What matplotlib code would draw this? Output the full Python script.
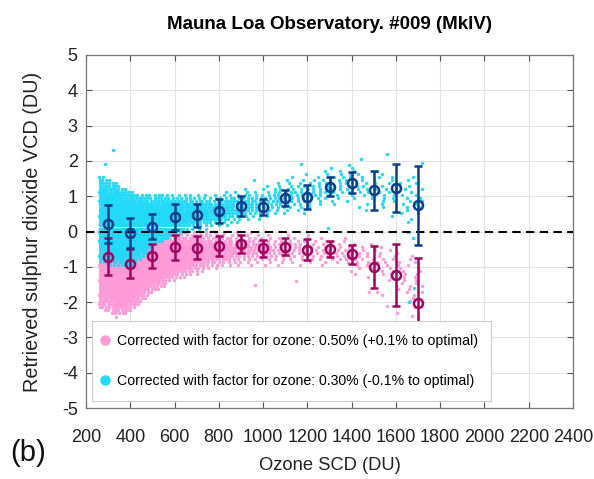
import numpy as np
import matplotlib
matplotlib.use("Agg")
import matplotlib.pyplot as plt
from matplotlib.lines import Line2D

plt.rcParams['font.family'] = ['Liberation Sans', 'DejaVu Sans']

# ---- binned statistics (error bars) ----
bin_x = [300, 400, 500, 600, 700, 800, 900, 1000, 1100, 1200, 1300, 1400, 1500, 1600, 1700]
cyan_mean = [0.21, -0.05, 0.14, 0.41, 0.46, 0.58, 0.73, 0.70, 0.94, 0.98, 1.27, 1.38, 1.17, 1.22, 0.74]
cyan_std = [0.54, 0.43, 0.36, 0.36, 0.33, 0.33, 0.28, 0.23, 0.23, 0.35, 0.27, 0.30, 0.55, 0.68, 1.12]
pink_mean = [-0.71, -0.91, -0.69, -0.45, -0.46, -0.41, -0.35, -0.48, -0.43, -0.52, -0.50, -0.65, -1.00, -1.23, -2.03]
pink_std = [0.53, 0.41, 0.35, 0.36, 0.32, 0.29, 0.26, 0.23, 0.24, 0.30, 0.22, 0.28, 0.59, 0.89, 1.29]

# ---- scatter cloud envelopes (read per 50 DU segment) ----
seg_x = [260, 300, 350, 400, 450, 500, 550, 600, 650, 700, 750, 800, 850, 900, 950,
         1000, 1050, 1100, 1150, 1200, 1250, 1300, 1350, 1400, 1450, 1500, 1550, 1600, 1650, 1720]
cyan_hi = [1.55, 1.40, 1.20, 1.10, 1.05, 1.05, 1.05, 1.05, 1.05, 1.05, 1.05, 1.10, 1.15, 1.20,
           1.20, 1.35, 1.45, 1.55, 1.55, 1.75, 1.80, 1.95, 1.95, 1.75, 1.70, 1.80, 1.90, 1.60, 1.70]
cyan_lo = [-0.90, -1.00, -1.00, -0.90, -0.60, -0.35, -0.20, -0.10, 0.00, 0.05, 0.10, 0.15, 0.20,
           0.25, 0.30, 0.35, 0.45, 0.50, 0.45, 0.60, 0.70, 0.75, 0.85, 0.65, 0.55, 0.50, 0.35, 0.25, -0.30]
pink_hi = [0.20, 0.10, 0.10, 0.10, 0.05, 0.05, 0.05, 0.05, 0.05, 0.05, 0.00, 0.00, 0.00, 0.00,
           0.00, -0.05, -0.05, -0.05, -0.05, -0.10, -0.10, -0.15, -0.15, -0.20, -0.30, -0.30, -0.30, -0.40, -0.60]
pink_lo = [-2.20, -2.35, -2.35, -2.15, -1.85, -1.65, -1.45, -1.35, -1.25, -1.15, -1.05, -1.00,
           -1.00, -0.95, -0.95, -0.95, -0.95, -0.95, -0.95, -0.95, -0.95, -1.10, -1.10, -1.30, -1.35,
           -1.85, -1.90, -2.40, -2.50]
seg_dx = [4, 4, 4, 4, 5, 5, 6, 7, 8, 9, 10, 11, 13, 15, 17, 19, 21, 24, 26, 28,
          30, 33, 35, 38, 42, 46, 50, 55, 60]

cyan_out_x = [322, 287, 1560, 1720, 1680, 1657, 1170, 960, 1440, 1295]
cyan_out_y = [2.31, 1.91, 2.20, 1.95, -1.60, -2.00, 1.90, 1.45, 2.05, 0.10]
pink_out_x = [336, 320, 964, 1607, 1700, 1715, 1560, 1150, 1480, 1630]
pink_out_y = [-2.41, -2.75, -1.52, -2.30, -2.46, -2.60, -2.10, -1.40, -1.70, -2.70]

ticks_x = list(range(200, 2401, 200))
ticks_y = list(range(-5, 6))

PINK = '#FF9AD8'
CYAN = '#22DAF7'
DBLUE = '#0C3D8C'
DMAG = '#A0045F'


def cloud(lo, hi, dxs, dy=0.085):
    mids = [(seg_x[i] + seg_x[i + 1]) / 2 for i in range(len(seg_x) - 1)]
    lo_f = lambda x: np.interp(x, mids, lo)
    hi_f = lambda x: np.interp(x, mids, hi)
    dx_f = lambda x: np.interp(x, mids, dxs)
    xs, ys = [], []
    k0 = int(np.floor(min(lo) / dy))
    k1 = int(np.ceil(max(hi) / dy))
    for k in range(k0, k1 + 1):
        y = k * dy
        x = seg_x[0] + ((k * 0.618) % 1.0) * dxs[0]
        j = 0
        while x < seg_x[-1]:
            l, h = lo_f(x), hi_f(x)
            c, hw = (l + h) / 2, max((h - l) / 2, 1e-6)
            t = min(abs(y - c) / hw, 1.0)
            if l <= y <= h:
                xs.append(x)
                ys.append(y)
            j += 1
            x += dx_f(x) * (1 + 3.5 * t ** 3) * (0.7 + ((j * 0.618 + k * 0.382) % 1.0) * 0.6)
    return np.array(xs), np.array(ys)


fig = plt.figure(figsize=(5.94, 4.79), dpi=100)
ax = fig.add_axes([0.1448, 0.1482, 0.8199, 0.737])

px, py = cloud(pink_lo, pink_hi, seg_dx)
cx, cy = cloud(cyan_lo, cyan_hi, seg_dx)
ax.scatter(np.r_[px, pink_out_x], np.r_[py, pink_out_y], s=6, c=PINK, linewidths=0, zorder=2)
ax.scatter(np.r_[cx, cyan_out_x], np.r_[cy, cyan_out_y], s=6, c=CYAN, linewidths=0, zorder=3)

ax.axhline(0, color='black', ls=(0, (4, 2.6)), lw=1.5, zorder=4)

ax.errorbar(bin_x, pink_mean, yerr=pink_std, fmt='o', color=DMAG, mfc='none', mec=DMAG,
            ms=6.5, mew=1.8, elinewidth=1.8, capsize=3.2, capthick=1.8, zorder=5)
ax.errorbar(bin_x, cyan_mean, yerr=cyan_std, fmt='o', color=DBLUE, mfc='none', mec=DBLUE,
            ms=6.5, mew=1.8, elinewidth=1.8, capsize=3.2, capthick=1.8, zorder=6)

ax.set_xlim(200, 2400)
ax.set_ylim(-5, 5)
ax.set_xticks(ticks_x)
ax.set_yticks(ticks_y)
ax.set_xticklabels([str(t) for t in ticks_x])
ax.set_yticklabels([str(t) for t in ticks_y])
ax.grid(True, color='#e3e3e3', lw=0.8, zorder=0)
ax.set_axisbelow(True)
ax.tick_params(direction='in', length=4, width=0.8, colors='#555555', labelcolor='#222222',
               labelsize=13, top=True, right=True)
ax.tick_params(axis='x', pad=15)
ax.tick_params(axis='y', pad=6)
for s in ax.spines.values():
    s.set_color('#777777')
    s.set_linewidth(0.9)

ax.set_title('Mauna Loa Observatory. #009 (MkIV)', fontsize=13.5, fontweight='bold', pad=19)
ax.set_xlabel('Ozone SCD (DU)', fontsize=13.2, labelpad=8, color='#222222')
ax.set_ylabel('Retrieved sulphur dioxide VCD (DU)', fontsize=14.3, labelpad=14, color='#222222')

handles = [Line2D([], [], ls='none', marker='o', ms=6.5, mfc=PINK, mec=PINK),
           Line2D([], [], ls='none', marker='o', ms=6.5, mfc=CYAN, mec=CYAN)]
labels = ['Corrected with factor for ozone: 0.50% (+0.1% to optimal)',
          'Corrected with factor for ozone: 0.30% (-0.1% to optimal)']
leg = ax.legend(handles, labels, loc='lower left', bbox_to_anchor=(0.012, 0.02), fontsize=10.2,
                frameon=True, fancybox=False, framealpha=1, edgecolor='#cccccc',
                handlelength=0, handletextpad=0.85, borderpad=0.92, labelspacing=1.85,
                borderaxespad=0)
leg.set_zorder(10)
leg.get_frame().set_linewidth(0.8)

fig.text(0.017, 0.037, '(b)', fontsize=21, color='#111111')

fig.savefig('out.png', dpi=100)
